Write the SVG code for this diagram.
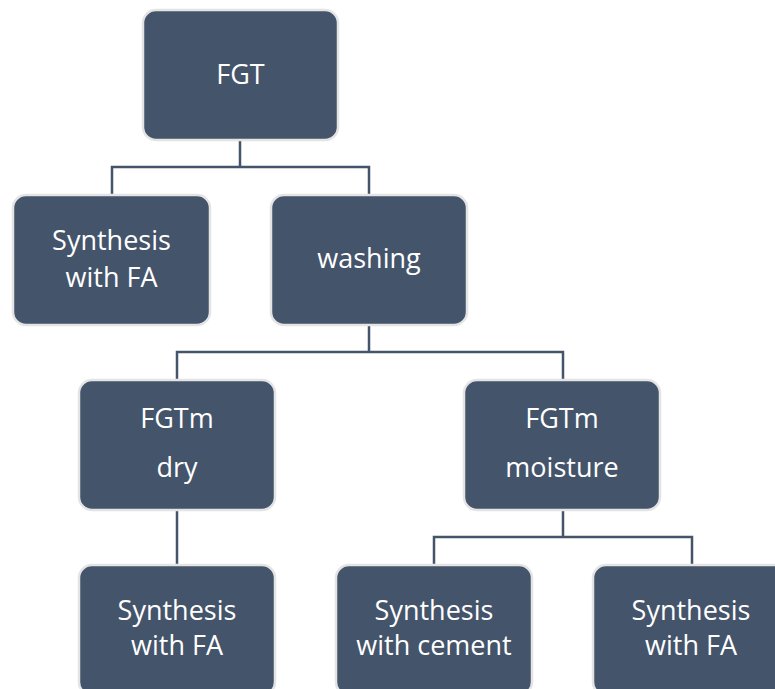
<svg xmlns="http://www.w3.org/2000/svg" width="775" height="689" viewBox="0 0 775 689">
<style>
.box{fill:#44546A;stroke:#E4E4E4;stroke-width:2.5}
.lbl{fill:#FFFFFF;font-family:"Open Sans","Liberation Sans",Arial,sans-serif;font-size:27px;text-anchor:middle}
.con{fill:none;stroke:#44546A;stroke-width:2.5}
</style>
<rect width="775" height="689" fill="#FFFFFF"/>
<g id="connectors">
<path class="con" d="M240,140 V167 M112,194 V167 H369 V194"/>
<path class="con" d="M369,325 V352 M177,379 V352 H563 V379"/>
<path class="con" d="M177,510 V565"/>
<path class="con" d="M563,510 V537 M434,564 V537 H692 V564"/>
</g>
<g id="n-fgt"><rect class="box" x="143" y="10" width="195" height="130" rx="13"/><text class="lbl" x="240.5" y="84">FGT</text></g>
<g id="n-synth-fa-1"><rect class="box" x="13" y="195" width="197" height="130" rx="13"/><text class="lbl" x="111.5" y="250">Synthesis</text><text class="lbl" x="111.5" y="287">with FA</text></g>
<g id="n-washing"><rect class="box" x="271" y="195" width="196" height="130" rx="13"/><text class="lbl" x="369" y="268">washing</text></g>
<g id="n-fgtm-dry"><rect class="box" x="79" y="380" width="196" height="130" rx="13"/><text class="lbl" x="177" y="428">FGTm</text><text class="lbl" x="177" y="477">dry</text></g>
<g id="n-fgtm-moist"><rect class="box" x="464" y="380" width="196" height="130" rx="13"/><text class="lbl" x="562" y="428">FGTm</text><text class="lbl" x="562" y="477">moisture</text></g>
<g id="n-synth-fa-2"><rect class="box" x="79" y="565" width="196" height="130" rx="13"/><text class="lbl" x="177" y="620">Synthesis</text><text class="lbl" x="177" y="655">with FA</text></g>
<g id="n-synth-cement"><rect class="box" x="336" y="565" width="196" height="130" rx="13"/><text class="lbl" x="434" y="620">Synthesis</text><text class="lbl" x="434" y="655">with cement</text></g>
<g id="n-synth-fa-3"><rect class="box" x="593" y="565" width="196" height="130" rx="13"/><text class="lbl" x="691" y="620">Synthesis</text><text class="lbl" x="691" y="655">with FA</text></g>
</svg>
